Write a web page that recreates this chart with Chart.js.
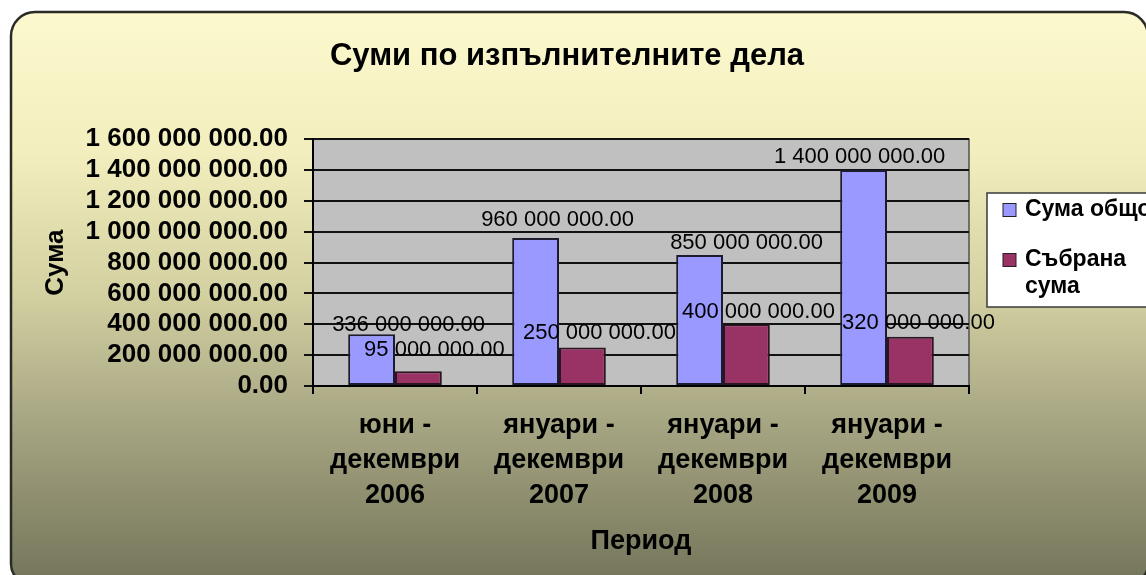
<!DOCTYPE html>
<html>
<head>
<meta charset="utf-8">
<title>Суми по изпълнителните дела</title>
<script src="https://cdn.jsdelivr.net/npm/chart.js@4.4.0/dist/chart.umd.min.js"></script>
<style>
    body { margin: 0; background: #fff; }
    canvas { display: block; }
</style>
</head>
<body>
<canvas id="myChart" width="1146" height="575"></canvas>
<script>
// Data
const categories = [
    ['юни -', 'декември', '2006'],
    ['януари -', 'декември', '2007'],
    ['януари -', 'декември', '2008'],
    ['януари -', 'декември', '2009']
];
const seriesNames = ['Сума общо', 'Събрана сума'];
const totalSums = [336000000, 960000000, 850000000, 1400000000];
const collectedSums = [95000000, 250000000, 400000000, 320000000];
const yTicks = [0, 200000000, 400000000, 600000000, 800000000, 1000000000, 1200000000, 1400000000, 1600000000];

const FONT = "'Liberation Sans', Arial, sans-serif";

// 1600000000 -> "1 600 000 000.00"
function money(v) {
    return Number(v).toFixed(2).replace(/\B(?=(\d{3})+(?!\d))/g, ' ');
}

function roundedPath(ctx, x, y, w, h, rt, rb) {
    ctx.beginPath();
    ctx.moveTo(x + rt, y);
    ctx.lineTo(x + w - rt, y);
    ctx.arcTo(x + w, y, x + w, y + rt, rt);
    ctx.lineTo(x + w, y + h - rb);
    ctx.arcTo(x + w, y + h, x + w - rb, y + h, rb);
    ctx.lineTo(x + rb, y + h);
    ctx.arcTo(x, y + h, x, y + h - rb, rb);
    ctx.lineTo(x, y + rt);
    ctx.arcTo(x, y, x + rt, y, rt);
    ctx.closePath();
}

// Rounded gradient frame + grey plot area
const frame = {
    id: 'frame',
    beforeDraw(chart) {
        const ctx = chart.ctx;
        const a = chart.chartArea;
        ctx.save();
        ctx.fillStyle = '#fff';
        ctx.fillRect(0, 0, chart.width, chart.height);

        roundedPath(ctx, 11, 12, 1137, 572, 24, 20);
        const g = ctx.createLinearGradient(0, 12, 0, chart.height);
        g.addColorStop(0, '#fcf9cf');
        g.addColorStop(0.25, '#f2eebd');
        g.addColorStop(0.5, '#d3d0a1');
        g.addColorStop(0.72, '#a8a784');
        g.addColorStop(1, '#76775c');
        ctx.fillStyle = g;
        ctx.fill();
        ctx.lineWidth = 2.5;
        ctx.strokeStyle = '#2b2b26';
        ctx.stroke();

        ctx.fillStyle = '#c0c0c0';
        ctx.fillRect(a.left, a.top, a.right - a.left, a.bottom - a.top);
        ctx.strokeStyle = '#505050';
        ctx.lineWidth = 1.5;
        ctx.strokeRect(a.left, a.top, a.right - a.left, a.bottom - a.top);
        ctx.restore();
    }
};

// Value labels above the bars (moved by hand in the original, hence the shifts)
const barLabels = {
    id: 'barLabels',
    afterDatasetsDraw(chart, args, opts) {
        const ctx = chart.ctx;
        ctx.save();
        ctx.font = '22px ' + FONT;
        ctx.fillStyle = '#000';
        ctx.textAlign = 'center';
        ctx.textBaseline = 'middle';
        chart.data.datasets.forEach((ds, i) => {
            chart.getDatasetMeta(i).data.forEach((bar, j) => {
                const s = opts.shift[i][j];
                ctx.fillText(money(ds.data[j]), bar.x + s[0], bar.y - s[1]);
            });
        });
        ctx.restore();
    }
};

// Legend box on the right, cut by the picture edge like the original
const sideLegend = {
    id: 'sideLegend',
    afterDraw(chart, args, opts) {
        const ctx = chart.ctx;
        ctx.save();
        ctx.fillStyle = '#fff';
        ctx.strokeStyle = '#3a3a3a';
        ctx.lineWidth = 1.5;
        ctx.fillRect(opts.x, opts.y, opts.w, opts.h);
        ctx.strokeRect(opts.x, opts.y, opts.w, opts.h);

        ctx.font = 'bold 23px ' + FONT;
        ctx.textBaseline = 'middle';
        let y = opts.y + opts.first;
        chart.data.datasets.forEach(ds => {
            ctx.fillStyle = ds.backgroundColor;
            ctx.fillRect(opts.x + 16, y - 6.5, 13, 13);
            ctx.strokeStyle = '#222';
            ctx.lineWidth = 1;
            ctx.strokeRect(opts.x + 16, y - 6.5, 13, 13);

            // simple word wrap
            const lines = [];
            let line = '';
            ds.label.split(' ').forEach(word => {
                const test = line ? line + ' ' + word : word;
                if (line && ctx.measureText(test).width > opts.maxText) {
                    lines.push(line);
                    line = word;
                } else {
                    line = test;
                }
            });
            lines.push(line);

            ctx.fillStyle = '#000';
            lines.forEach((t, k) => ctx.fillText(t, opts.x + 38, y + k * 27));
            y += opts.gap;
        });
        ctx.restore();
    }
};

const ctx = document.getElementById('myChart').getContext('2d');

const myChart = new Chart(ctx, {
    type: 'bar',
    data: {
        labels: categories,
        datasets: [{
            label: seriesNames[0],
            data: totalSums,
            backgroundColor: '#9999ff',
            borderColor: '#1c1c2e',
            borderWidth: 2,
            borderSkipped: false,
            categoryPercentage: 0.571,
            barPercentage: 1
        }, {
            label: seriesNames[1],
            data: collectedSums,
            backgroundColor: '#993366',
            borderColor: '#2a1520',
            borderWidth: 2,
            borderSkipped: false,
            categoryPercentage: 0.571,
            barPercentage: 1
        }]
    },
    options: {
        responsive: false,
        animation: false,
        layout: { padding: { left: 0, right: 12, top: 0, bottom: 0 } },
        plugins: {
            legend: { display: false },
            tooltip: { enabled: false },
            title: {
                display: true,
                text: 'Суми по изпълнителните дела',
                color: '#000',
                font: { family: FONT, size: 31, weight: 'bold' },
                padding: { top: 38, bottom: 64 }
            },
            barLabels: {
                shift: [
                    [[37, 9], [22, 18], [47, 12], [-4, 13]],
                    [[16, 21], [17, 15], [12, 12], [8, 14]]
                ]
            },
            sideLegend: { x: 987, y: 193, w: 200, h: 114, first: 17, gap: 50, maxText: 130 }
        },
        scales: {
            x: {
                grid: { drawOnChartArea: false, color: '#000', lineWidth: 2, tickLength: 8, offset: true },
                border: { color: '#000', width: 2 },
                ticks: {
                    color: '#000',
                    font: { family: FONT, size: 27, weight: 'bold', lineHeight: 1.3 },
                    padding: 14,
                    maxRotation: 0,
                    autoSkip: false
                },
                title: {
                    display: true,
                    text: 'Период',
                    color: '#000',
                    font: { family: FONT, size: 27, weight: 'bold' },
                    padding: { top: 0, bottom: 17 }
                },
                afterFit: s => { s.height = 189; }
            },
            y: {
                min: 0,
                max: 1600000000,
                afterBuildTicks: s => { s.ticks = yTicks.map(v => ({ value: v })); },
                grid: { color: '#111', lineWidth: 2, tickLength: 9 },
                border: { color: '#000', width: 2 },
                ticks: {
                    color: '#000',
                    font: { family: FONT, size: 26, weight: 'bold' },
                    padding: 16,
                    autoSkip: false,
                    callback: v => money(v)
                },
                title: {
                    display: true,
                    text: 'Сума',
                    color: '#000',
                    font: { family: FONT, size: 26, weight: 'bold' },
                    padding: { top: 40, bottom: 0 }
                },
                afterFit: s => { s.width = 313; }
            },
            // empty axis that only keeps room for the legend on the right
            y2: {
                type: 'linear',
                position: 'right',
                grid: { display: false },
                border: { display: false },
                ticks: { display: false },
                afterFit: s => { s.width = 165; }
            }
        }
    },
    plugins: [frame, barLabels, sideLegend]
});
</script>
</body>
</html>
